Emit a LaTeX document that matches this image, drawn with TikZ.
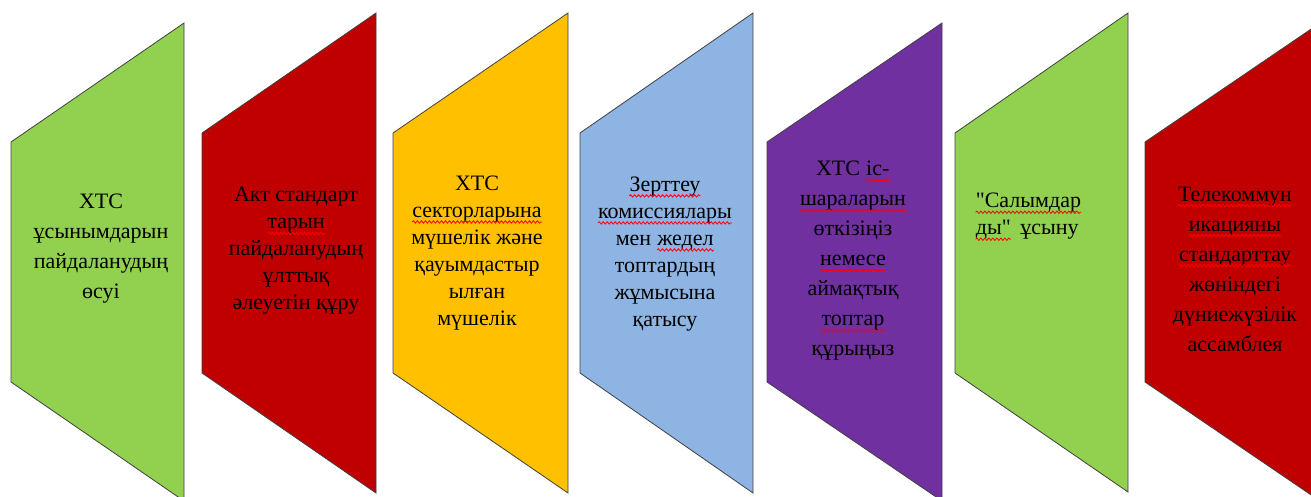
\documentclass[tikz,border=0pt]{standalone}
\usepackage{fontspec}
\setmainfont{Liberation Serif}
\newfontfamily\tnr{Liberation Serif}
\usetikzlibrary{decorations.pathmorphing}
\definecolor{grn}{HTML}{92D050}
\definecolor{krd}{HTML}{C00000}
\definecolor{yel}{HTML}{FFC000}
\definecolor{blu}{HTML}{8DB4E2}
\definecolor{pur}{HTML}{7030A0}
% spell-check wave
\newcommand\spl[1]{\tikz[baseline=(w.base)]{\node [inner sep=0pt, text width={}, align=none] (w) {#1};
  \draw [red, line width=0.8pt, decorate, decoration={snake, amplitude=1.2pt, segment length=4pt}]
    ([yshift=-4.5pt]w.base west) -- ([yshift=-4.5pt]w.base east);}}
\newcommand\qt{\char34}
\tikzset{
  pan/.style={draw=black!75, line width=0.8pt},
  lbl/.style={align=center, inner sep=0pt, font=\tnr\fontsize{22}{27}\selectfont},
  lblw/.style={lbl, font=\tnr\fontsize{22}{30}\selectfont},
}
\begin{document}
\begin{tikzpicture}[x=1pt,y=-1pt]%{{{
\useasboundingbox (0,0) rectangle (1311,497);
\clip (0,0) rectangle (1311,497);
%
% Panneau 1
\draw [pan, fill=grn]  (11,142) -- ++(0,240)
            -- ++(173,119) -- ++(0,-478) -- cycle;
\node [lblw] (t1) at (101,249)
  {ХТС\\ ұсынымдарын\\ пайдаланудың\\ өсуі};
%
% Panneau 2
\draw [pan, fill=krd] (202,133) -- ++(0,240)
            -- ++(174,120) -- ++(0,-480) -- cycle;
\node [lbl] (t2) at (296,251)
  {Акт стандарт\\ \spl{тарын}\\ пайдаланудың\\ ұлттық\\ әлеуетін құру};
%
% Panneau 3
\draw [pan, fill=yel] (393,133) -- ++(0,240)
            -- ++(175,120) -- ++(0,-480) -- cycle;
\node [lbl] (t3) at (477,253)
  {ХТС\\ \spl{секторларына}\\ мүшелік және\\ қауымдастыр\\ ылған\\ мүшелік};
%
% Panneau 4
\draw [pan, fill=blu] (580,133) -- ++(0,240)
            -- ++(173,120) -- ++(0,-480) -- cycle;
\node [lbl] (t4) at (665,254)
  {\spl{Зерттеу}\\ \spl{комиссиялары}\\ мен \spl{жедел}\\ топтардың\\ жұмысына\\ қатысу};
%
% Panneau 5
\draw [pan, fill=pur] (767,142) -- ++(0,240)
            -- ++(175,119) -- ++(0,-478) -- cycle;
\node [lblw] (t5) at (853,261)
  {ХТС \spl{іс-}\\ \spl{шараларын}\\ өткізіңіз\\ \spl{немесе}\\ аймақтық\\ \spl{топтар}\\ құрыңыз};
%
% Panneau 6
\draw [pan, fill=grn] (955,133) -- ++(0,240)
            -- ++(173,119) -- ++(0,-479) -- cycle;
\node [lbl, align=left, anchor=west] (t6) at (975,217)
  {\spl{\qt Салымдар}\\ \spl{ды\qt}\hspace{9pt}ұсыну};
%
% Panneau 7 (coupé)
\draw [pan, fill=krd] (1145,142) -- ++(0,240)
            -- ++(175,119) -- ++(0,-478) -- cycle;
\node [lblw] (t7) at (1235,269)
  {\spl{Телекоммун}\\ \spl{икацияны}\\ \spl{стандарттау}\\ жөніндегі\\ дүниежүзілік\\ ассамблея};
%
\end{tikzpicture}
\end{document}
